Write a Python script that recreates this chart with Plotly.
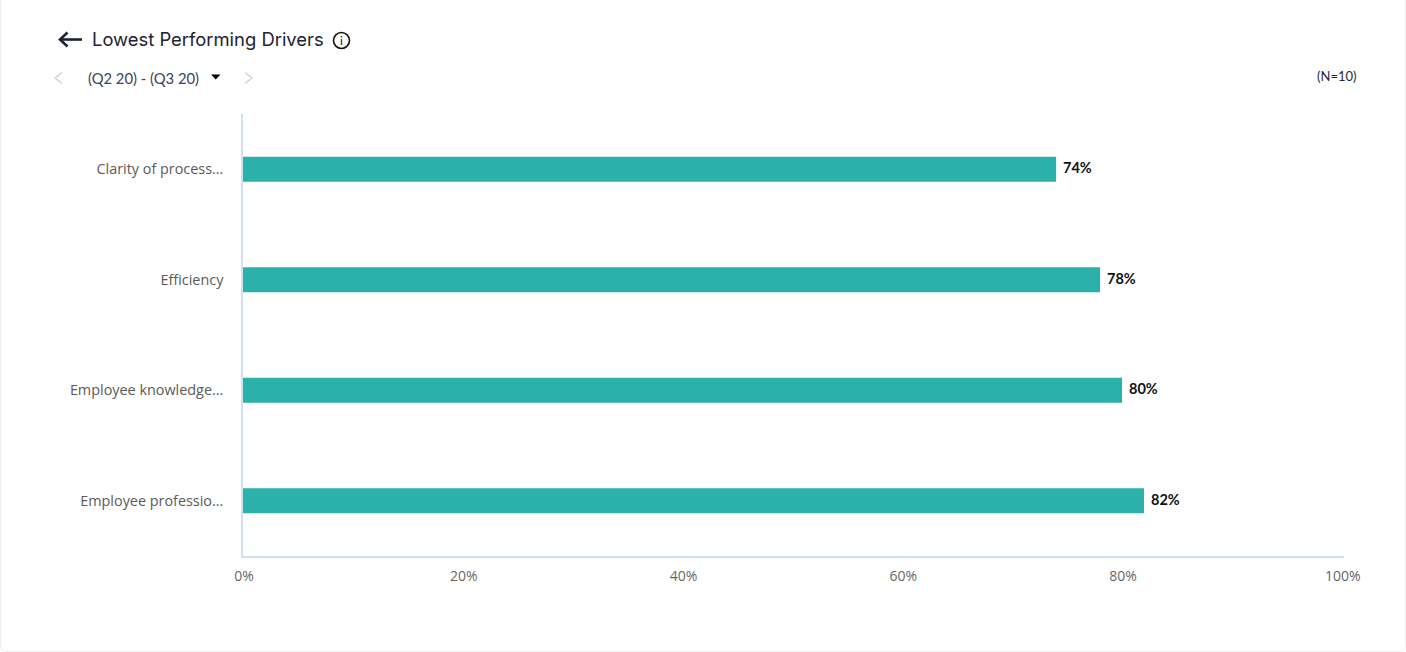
import plotly.graph_objects as go

drivers = ["Clarity of process...", "Efficiency", "Employee knowledge...", "Employee professio..."]
scores = [74, 78, 80, 82]
score_labels = ["74%", "78%", "80%", "82%"]
x_ticks = [0, 20, 40, 60, 80, 100]
x_tick_labels = ["0%", "20%", "40%", "60%", "80%", "100%"]
title_text = "Lowest Performing Drivers"
period_text = "(Q2 20) - (Q3 20)"
n_text = "(N=10)"

W, H = 1406, 652
L, R, T, B = 243, 62, 114, 96
TEAL = "#2bb1a9"
AXIS = "#d5dff2"
INK = "#1f2233"


def px(x):
    return (x - L) / (W - L - R)


def py(y):
    return 1 - (y - T) / (H - T - B)


def path(points):
    return "M" + " L".join(f"{px(a):.5f},{py(b):.5f}" for a, b in points)


fig = go.Figure(
    go.Bar(
        x=scores,
        y=drivers,
        orientation="h",
        marker=dict(color=TEAL, line=dict(width=0)),
        width=0.226,
        hoverinfo="skip",
    )
)

annotations = [
    dict(
        x=v, y=d, xref="x", yref="y", text=f"<b>{t}</b>", showarrow=False,
        xanchor="left", yanchor="middle", xshift=5, yshift=1.5,
        font=dict(family="Lato, sans-serif", size=14.5, color="#111111"),
    )
    for v, d, t in zip(scores, drivers, score_labels)
]


def page_text(x, y, text, size, color, family, anchor="left"):
    return dict(
        x=px(x), y=py(y), xref="paper", yref="paper", text=text, showarrow=False,
        xanchor=anchor, yanchor="middle", xshift=0, yshift=0,
        font=dict(family=family, size=size, color=color),
    )


annotations += [
    page_text(90, 39.5, title_text, 18.4, INK, "Inter, sans-serif"),
    page_text(86, 78, period_text, 14.8, "#3d4257", "Lato, sans-serif"),
    page_text(1359, 76, n_text, 13, "#1f2a44", "Lato, sans-serif", anchor="right"),
    page_text(341.5, 40.5, "i", 12, "#111111", "Lato, sans-serif", anchor="center"),
]

shapes = [
    # card outline
    dict(type="path", xref="paper", yref="paper", line=dict(color="#eeeeee", width=1),
         path=path([(0.5, -2), (0.5, 645)]) + f" Q{px(0.5):.5f},{py(651.5):.5f} {px(6):.5f},{py(651.5):.5f}"
         + " L" + f"{px(1400):.5f},{py(651.5):.5f}" + f" Q{px(1405.5):.5f},{py(651.5):.5f} {px(1405.5):.5f},{py(645):.5f}"
         + " L" + f"{px(1405.5):.5f},{py(-2):.5f}"),
    # back arrow
    dict(type="path", xref="paper", yref="paper", line=dict(color=INK, width=2.6),
         path=path([(60, 39.5), (82, 39.5)])),
    dict(type="path", xref="paper", yref="paper", line=dict(color=INK, width=2.6),
         path=path([(67.5, 32.5), (60, 39.5), (67.5, 46.5)])),
    # info icon ring
    dict(type="circle", xref="paper", yref="paper", line=dict(color="#111111", width=1.6),
         x0=px(333.5), x1=px(349.5), y0=py(48.5), y1=py(32.5)),
    # pager chevrons and caret
    dict(type="path", xref="paper", yref="paper", line=dict(color="#cfd2d6", width=1.5),
         path=path([(62, 72.5), (55, 78), (62, 83.5)])),
    dict(type="path", xref="paper", yref="paper", line=dict(color="#cfd2d6", width=1.5),
         path=path([(245, 72.5), (252, 78), (245, 83.5)])),
    dict(type="path", xref="paper", yref="paper", line=dict(width=0), fillcolor="#000000",
         path=path([(211, 74.5), (220.5, 74.5), (215.7, 79.5)]) + " Z"),
]

fig.update_layout(
    width=W, height=H,
    margin=dict(l=L, r=R, t=T, b=B, autoexpand=False),
    paper_bgcolor="#ffffff",
    plot_bgcolor="#ffffff",
    showlegend=False,
    annotations=annotations,
    shapes=shapes,
    xaxis=dict(
        range=[0, 100.2], tickvals=x_ticks, ticktext=x_tick_labels,
        showgrid=False, zeroline=False, showline=True, linecolor=AXIS, linewidth=1.5,
        ticks="", ticklabelstandoff=6, ticklabelshift=1,
        tickfont=dict(family="Open Sans, sans-serif", size=14, color="#666666"),
    ),
    yaxis=dict(
        categoryorder="array", categoryarray=drivers[::-1],
        showgrid=False, zeroline=False, showline=True, linecolor=AXIS, linewidth=1.5,
        ticks="", ticklabelstandoff=15,
        tickfont=dict(family="Open Sans, sans-serif", size=14.4, color="#5a5a5a"),
    ),
)

fig.write_html(
    "out.html",
    config=dict(displayModeBar=False),
    post_script="document.body.style.margin='0';document.body.style.overflow='hidden';",
)
